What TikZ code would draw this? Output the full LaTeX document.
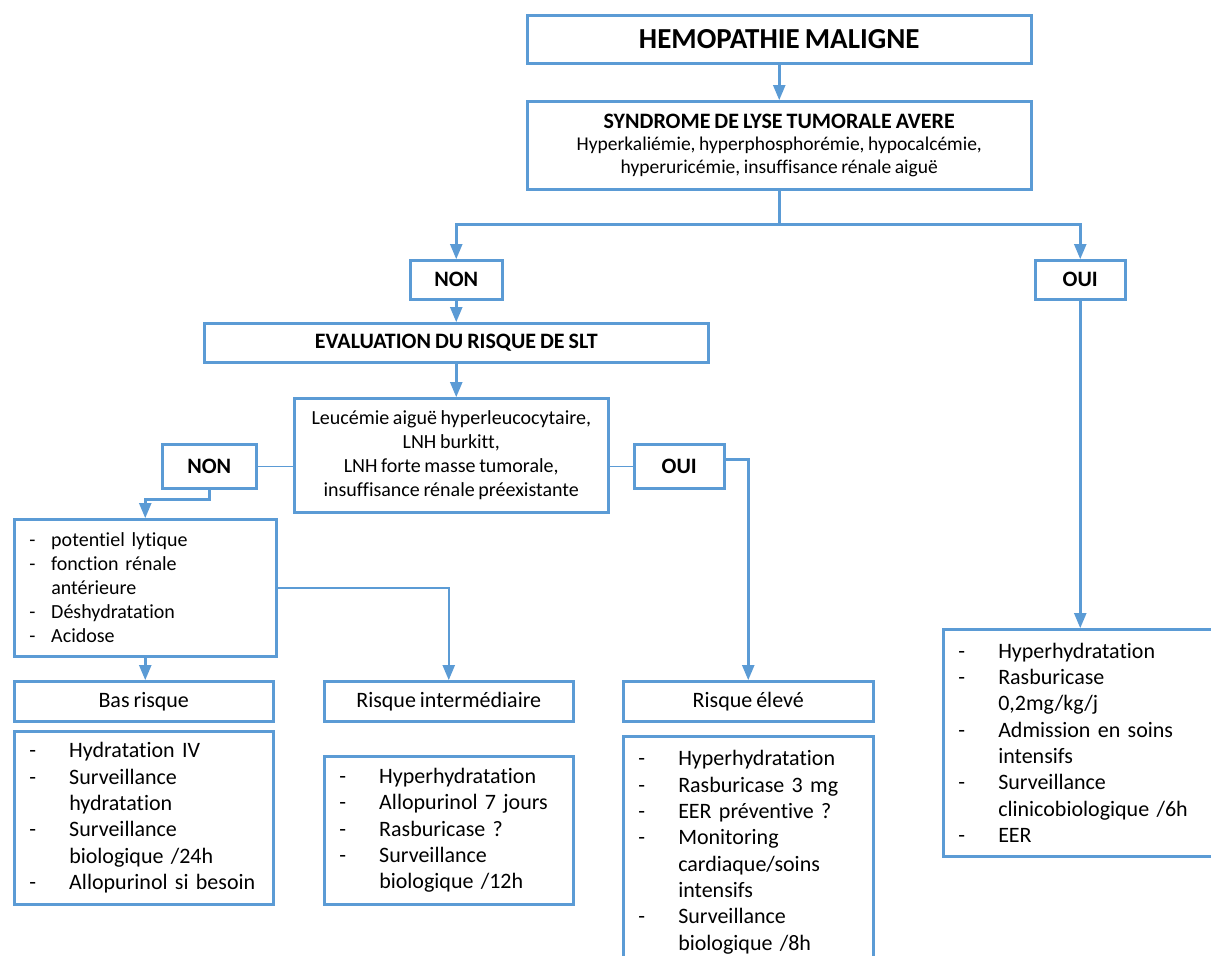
\documentclass[tikz,border=0pt]{standalone}
\usepackage{fontspec}
\setmainfont[Ligatures=NoCommon,WordSpace=0.8]{Carlito}
\usetikzlibrary{arrows}
\usetikzlibrary{positioning}

\definecolor{lineblue}{RGB}{91,155,213}
\newcommand{\li}[2][40pt]{\makebox[#1][l]{-}#2}
\newcommand{\lc}[2][40pt]{\hspace*{#1}#2}

\tikzset{
  box/.style={draw=lineblue,line width=2.5pt,inner sep=0pt,anchor=north west,align=center,fill=white},
  title/.style={font=\bfseries\fontsize{22}{26}\selectfont},
  plain/.style={font=\fontsize{20}{24}\selectfont},
  listbox/.style={box,align=left,inner xsep=15pt,font=\fontsize{22}{26.3}\selectfont},
  link/.style={draw=lineblue,line width=2.5pt,->},
  thinlink/.style={draw=lineblue,line width=0.8pt}
}

\begin{document}
\begin{tikzpicture}[line join=miter,>=triangle 45,x=1pt,y=-1pt]
\useasboundingbox (0,0) rectangle (1211,956);
% top of the chart
\node[box,font=\bfseries\fontsize{29}{34}\selectfont,minimum width=504pt,minimum height=48pt] (hemo) at (526,14) {HEMOPATHIE MALIGNE};
\node[box,font=\fontsize{19.5}{22.5}\selectfont,minimum width=504pt,minimum height=88pt] (synd) at (526,100)
  {{\bfseries\fontsize{22}{25}\selectfont SYNDROME DE LYSE TUMORALE AVERE}\\
   Hyperkaliémie, hyperphosphorémie, hypocalcémie,\\
   hyperuricémie, insuffisance rénale aiguë};
\node[box,title,minimum width=92pt,minimum height=39pt] (non1) at (409,259) {NON};
\node[box,title,minimum width=90pt,minimum height=39pt] (oui1) at (1034,259) {OUI};
\node[box,title,minimum width=504pt,minimum height=39pt] (eval) at (203,322) {EVALUATION DU RISQUE DE SLT};
\node[box,plain,minimum width=314pt,minimum height=114pt] (lnh) at (293,397)
  {Leucémie aiguë hyperleucocytaire,\\LNH burkitt,\\LNH forte masse tumorale,\\insuffisance rénale préexistante};
\node[box,title,minimum width=94pt,minimum height=44pt] (non2) at (161,443) {NON};
\node[box,title,minimum width=90pt,minimum height=44pt] (oui2) at (633,443) {OUI};
\node[listbox,font=\fontsize{20}{24}\selectfont,text width=232pt,minimum height=137pt] (fact) at (13,518)
  {\li[22pt]{potentiel lytique}\\\li[22pt]{fonction rénale}\\\lc[22pt]{antérieure}\\\li[22pt]{Déshydratation}\\\li[22pt]{Acidose}};
% risk levels
\node[box,font=\fontsize{22}{26}\selectfont,minimum width=259pt,minimum height=40pt] (bas) at (13,680) {Bas risque};
\node[box,font=\fontsize{22}{26}\selectfont,minimum width=249pt,minimum height=40pt] (inter) at (323,680) {Risque intermédiaire};
\node[box,font=\fontsize{22}{26}\selectfont,minimum width=250pt,minimum height=40pt] (elev) at (622,680) {Risque élevé};
\node[listbox,text width=229pt,minimum height=173pt] (basl) at (13,730)
  {\li{Hydratation IV}\\\li{Surveillance}\\\lc{hydratation}\\\li{Surveillance}\\\lc{biologique /24h}\\\li{Allopurinol si besoin}};
\node[listbox,text width=219pt,minimum height=148pt] (interl) at (323,755)
  {\li{Hyperhydratation}\\\li{Allopurinol 7 jours}\\\li{Rasburicase ?}\\\li{Surveillance}\\\lc{biologique /12h}};
\node[listbox,text width=220pt,minimum height=232pt] (elevl) at (622,735)
  {\li{Hyperhydratation}\\\li{Rasburicase 3 mg}\\\li{EER préventive ?}\\\li{Monitoring}\\\lc{cardiaque/soins}\\\lc{intensifs}\\\li{Surveillance}\\\lc{biologique /8h}};
\node[listbox,text width=245pt,minimum height=227pt] (ouil) at (942,628)
  {\li{Hyperhydratation}\\\li{Rasburicase}\\\lc{0,2mg/kg/j}\\\li{Admission en soins}\\\lc{intensifs}\\\li{Surveillance}\\\lc{clinicobiologique /6h}\\\li{EER}};
% connectors
\draw[link] (hemo) -- (synd);
\draw[link] (synd.south) -- ++(0,34) -| (non1.north);
\draw[link] (synd.south) -- ++(0,34) -| (oui1.north);
\draw[link] (non1) -- (eval);
\draw[link] (eval.south) -- (eval.south |- lnh.north);
\draw[thinlink] (non2.east) -- (non2.east -| lnh.west);
\draw[thinlink] (lnh.east |- oui2.west) -- (oui2.west);
\draw[link] (non2.south) -- ++(0,10) -| (fact.north);
\draw[link] (fact.south) -- (fact.south |- bas.north);
\draw[link] (fact.east) -| (inter.north);
\draw[link] ([yshift=7pt]oui2.east) -| (elev.north);
\draw[link] (oui1.south) -- (oui1.south |- ouil.north);
\end{tikzpicture}
\end{document}
